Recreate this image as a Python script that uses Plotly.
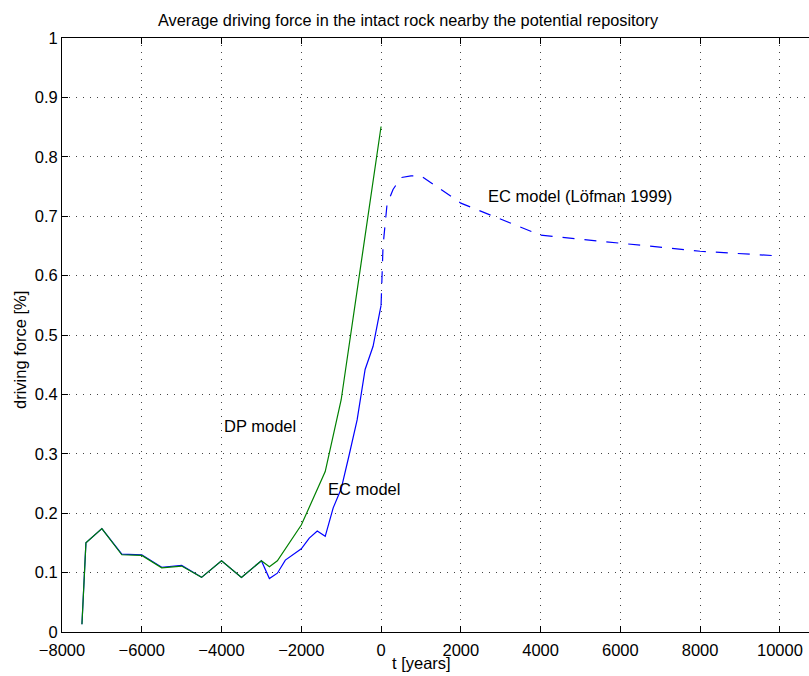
import plotly.graph_objects as go

# EC model (solid blue)
ec_t = [-7500, -7400, -7000, -6500, -6000, -5500, -5000, -4500, -4000, -3500, -3000,
        -2800, -2600, -2400, -2000, -1800, -1600, -1400, -1200, -1000, -800, -600,
        -400, -200, 0]
ec_v = [0.013, 0.150, 0.174, 0.131, 0.130, 0.109, 0.112, 0.092, 0.120, 0.092, 0.120,
        0.090, 0.099, 0.121, 0.140, 0.158, 0.170, 0.161, 0.209, 0.241, 0.298, 0.357,
        0.442, 0.481, 0.550]

# DP model (solid green)
dp_t = [-7500, -7400, -7000, -6500, -6000, -5500, -5000, -4500, -4000, -3500, -3000,
        -2800, -2600, -2000, -1400, -1000, -500, 0]
dp_v = [0.013, 0.150, 0.174, 0.130, 0.129, 0.108, 0.111, 0.092, 0.120, 0.092, 0.120,
        0.110, 0.120, 0.180, 0.270, 0.391, 0.621, 0.851]

# EC model (Löfman 1999) (dashed blue)
lof_t = [0, 50, 150, 300, 500, 750, 1000, 2000, 4000, 6000, 8000, 10000]
lof_v = [0.550, 0.650, 0.720, 0.745, 0.765, 0.768, 0.768, 0.722, 0.668, 0.654, 0.641, 0.633]

x_ticks = [-8000, -6000, -4000, -2000, 0, 2000, 4000, 6000, 8000, 10000]
x_ticktext = ["\u22128000", "\u22126000", "\u22124000", "\u22122000", "0", "2000", "4000",
              "6000", "8000", "10000"]
y_ticks = [0, 0.1, 0.2, 0.3, 0.4, 0.5, 0.6, 0.7, 0.8, 0.9, 1]
y_ticktext = ["0", "0.1", "0.2", "0.3", "0.4", "0.5", "0.6", "0.7", "0.8", "0.9", "1"]

FONT = "Liberation Sans, Arial, Helvetica, sans-serif"
FS = 16.5

fig = go.Figure()
fig.add_trace(go.Scatter(x=ec_t, y=ec_v, mode="lines", line=dict(color="#0000ff", width=1.2),
                         name="EC model", showlegend=False))
fig.add_trace(go.Scatter(x=dp_t, y=dp_v, mode="lines", line=dict(color="#008000", width=1.2),
                         name="DP model", showlegend=False))
fig.add_trace(go.Scatter(x=lof_t, y=lof_v, mode="lines",
                         line=dict(color="#0000ff", width=1.2, dash="12px,10px"),
                         name="EC model (Löfman 1999)", showlegend=False))

fig.update_layout(
    width=809, height=676,
    margin=dict(l=62, r=0, t=38, b=44),
    paper_bgcolor="white", plot_bgcolor="white",
    font=dict(family=FONT, size=FS, color="black"),
    annotations=[
        dict(text="Average driving force in the intact rock nearby the potential repository",
             xref="paper", yref="paper", x=0.4639, y=1, yshift=18, xanchor="center",
             yanchor="middle", showarrow=False, font=dict(size=16.3)),
        dict(text="t [years]", xref="paper", yref="paper", x=(421 - 62) / 747, y=0,
             yshift=-31, xanchor="center", yanchor="middle", showarrow=False),
        dict(text="driving force [%]", xref="paper", yref="paper", x=0, xshift=-42,
             y=(632 - 350) / 594, xanchor="center", yanchor="middle", textangle=-90,
             showarrow=False),
        dict(text="DP model", x=-4000, y=0.346, xanchor="left", yanchor="middle",
             showarrow=False),
        dict(text="EC model", x=-1380, y=0.24, xanchor="left", yanchor="middle",
             showarrow=False),
        dict(text="EC model (Löfman 1999)", x=2630, y=0.734, xanchor="left",
             yanchor="middle", showarrow=False),
    ],
)

fig.update_xaxes(
    range=[-8000, 10730], tickvals=x_ticks, ticktext=x_ticktext, showline=True,
    linecolor="black", linewidth=1,
    mirror="ticks", ticks="inside", ticklen=6, tickcolor="black", ticklabelstandoff=3,
    showgrid=True, gridcolor="#444444", gridwidth=1, griddash="1px,6px",
    zeroline=False, tickfont=dict(size=FS),
)
fig.update_yaxes(
    range=[0, 1], tickvals=y_ticks, ticktext=y_ticktext, showline=True, linecolor="black",
    linewidth=1, mirror=False, ticks="inside", ticklen=6, tickcolor="black",
    showgrid=True, gridcolor="#444444", gridwidth=1, griddash="1px,6px",
    zeroline=False, tickfont=dict(size=FS),
)

fig.write_html("out.html")
